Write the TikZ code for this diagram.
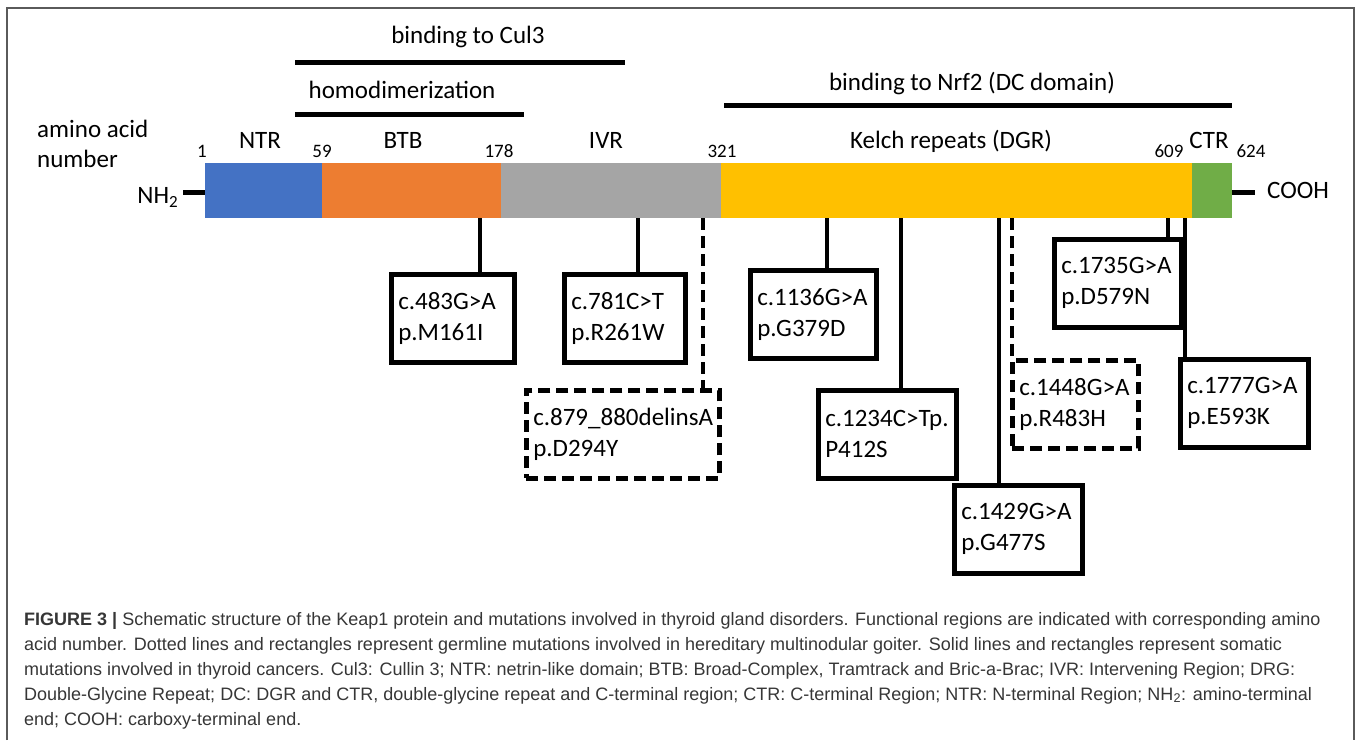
\documentclass[tikz,border=0pt]{standalone}
\usepackage{fontspec}
\setmainfont{Carlito}
\newfontfamily\capfont{Liberation Sans}
\definecolor{ntrblue}{HTML}{4472C4}
\definecolor{btborange}{HTML}{ED7D31}
\definecolor{ivrgray}{HTML}{A5A5A5}
\definecolor{kelchyellow}{HTML}{FFC000}
\definecolor{ctrgreen}{HTML}{70AD47}
\definecolor{framegray}{HTML}{5A5A5A}
\definecolor{captext}{HTML}{363636}
\tikzset{
  seg/.style={inner sep=0pt, minimum height=55pt, anchor=north west},
  lab/.style={anchor=base, inner sep=0pt, font=\fontsize{25}{30}\selectfont},
  num/.style={anchor=base, inner sep=0pt, font=\fontsize{19}{22}\selectfont},
  mutbox/.style={draw, line width=4.5pt, anchor=north west, inner xsep=7pt,
    inner ysep=0pt, text width=#1, minimum height=88pt, align=left,
    font=\fontsize{25}{31}\selectfont},
  germbox/.style={mutbox=#1, dash pattern=on 12pt off 6pt},
  stem/.style={line width=4.5pt},
  germstem/.style={stem, dash pattern=on 12pt off 6pt},
  bindline/.style={line width=5pt},
  capline/.style={anchor=base west, inner sep=0pt, text=captext,
    font=\capfont\fontsize{18}{25}\selectfont}
}
\begin{document}
\begin{tikzpicture}[x=1pt, y=-1pt]
    \useasboundingbox (0,0) rectangle (1357,740);
    % frame
    \draw [framegray, line width=2pt] (7,740) -- (7,8) -- (1354,8) -- (1354,740);
    % binding regions
    \node [lab] (cul3) at (468,43) {binding to Cul3};
    \draw [bindline] (295,62) -- (625,62);
    \node [lab] (homodim) at (402,98) {homodimerization};
    \draw [bindline] (295,114) -- (524,114);
    \node [lab] (nrf2) at (972,90) {binding to Nrf2 (DC domain)};
    \draw [bindline] (724,105) -- (1232,105);
    % domains
    \node [seg, fill=ntrblue, minimum width=117pt] (ntr) at (205,163) {};
    \node [seg, fill=btborange, minimum width=179pt] (btb) at (322,163) {};
    \node [seg, fill=ivrgray, minimum width=220pt] (ivr) at (501,163) {};
    \node [seg, fill=kelchyellow, minimum width=471pt] (kelch) at (721,163) {};
    \node [seg, fill=ctrgreen, minimum width=40pt] (ctr) at (1192,163) {};
    \node [lab] (ntrlab) at (260,148) {NTR};
    \node [lab] (btblab) at (403,148) {BTB};
    \node [lab] (ivrlab) at (606,148) {IVR};
    \node [lab] (kelchlab) at (951,148) {Kelch repeats (DGR)};
    \node [lab] (ctrlab) at (1209,148) {CTR};
    \node [lab, anchor=base west, align=left] (aanum) at (37,167) {amino acid\\number};
    \node [num] (n1) at (202,157) {1};
    \node [num] (n59) at (322,157) {59};
    \node [num] (n178) at (499,157) {178};
    \node [num] (n321) at (722,157) {321};
    \node [num] (n609) at (1169,157) {609};
    \node [num] (n624) at (1251,157) {624};
    % termini
    \node [lab, anchor=base east] (nh2) at (178,203) {NH\raisebox{-4pt}{\fontsize{17}{17}\selectfont 2}};
    \coordinate (nhend) at (183,192);
    \draw [bindline] (nhend) -- (nhend -| ntr.west);
    \node [lab, anchor=base west] (cooh) at (1267,198) {COOH};
    \coordinate (coohend) at (1255,192);
    \draw [bindline] (coohend -| ctr.east) -- (coohend);
    % mutations
    \node [mutbox=109pt] (m161) at (389,272) {c.483G>A\\p.M161I};
    \node [mutbox=107pt] (r261) at (562,272) {c.781C>T\\p.R261W};
    \node [germbox=179pt] (d294) at (524,388) {c.879\_880delinsA\\p.D294Y};
    \node [mutbox=112pt] (g379) at (748,268) {c.1136G>A\\p.G379D};
    \node [mutbox=124pt] (p412) at (816,388) {c.1234C>Tp.\\P412S};
    \node [mutbox=114pt] (g477) at (952,483) {c.1429G>A\\p.G477S};
    \node [germbox=112pt] (r483) at (1010,358) {c.1448G>A\\p.R483H};
    \node [mutbox=113pt] (d579) at (1052,237) {c.1735G>A\\p.D579N};
    \node [mutbox=114pt] (e593) at (1178,357) {c.1777G>A\\p.E593K};
    \coordinate (s161) at (480,218);
    \coordinate (s261) at (638,218);
    \coordinate (s294) at (703,218);
    \coordinate (s379) at (827,218);
    \coordinate (s412) at (901,218);
    \coordinate (s477) at (999,218);
    \coordinate (s483) at (1012,218);
    \coordinate (s579) at (1168,218);
    \coordinate (s593) at (1185,218);
    \draw [stem] (s161) -- (s161 |- m161.north);
    \draw [stem] (s261) -- (s261 |- r261.north);
    \draw [germstem] (s294) -- (s294 |- d294.north);
    \draw [stem] (s379) -- (s379 |- g379.north);
    \draw [stem] (s412) -- (s412 |- p412.north);
    \draw [stem] (s477) -- (s477 |- g477.north);
    \draw [germstem] (s483) -- (s483 |- r483.north);
    \draw [stem] (s579) -- (s579 |- d579.north);
    \draw [stem] (s593) -- (s593 |- e593.north);
    % caption
    \node [capline] (cap1) at (24,625) {\textbf{FIGURE 3 |} Schematic structure of the Keap1 protein and mutations involved in thyroid gland disorders. Functional regions are indicated with corresponding amino};
    \node [capline] (cap2) at (24,650) {acid number. Dotted lines and rectangles represent germline mutations involved in hereditary multinodular goiter. Solid lines and rectangles represent somatic};
    \node [capline] (cap3) at (24,675) {mutations involved in thyroid cancers. Cul3: Cullin 3; NTR: netrin-like domain; BTB: Broad-Complex, Tramtrack and Bric-a-Brac; IVR: Intervening Region; DRG:};
    \node [capline] (cap4) at (24,700) {Double-Glycine Repeat; DC: DGR and CTR, double-glycine repeat and C-terminal region; CTR: C-terminal Region; NTR: N-terminal Region; NH\textsubscript{2}: amino-terminal};
    \node [capline] (cap5) at (24,725) {end; COOH: carboxy-terminal end.};
\end{tikzpicture}
\end{document}
